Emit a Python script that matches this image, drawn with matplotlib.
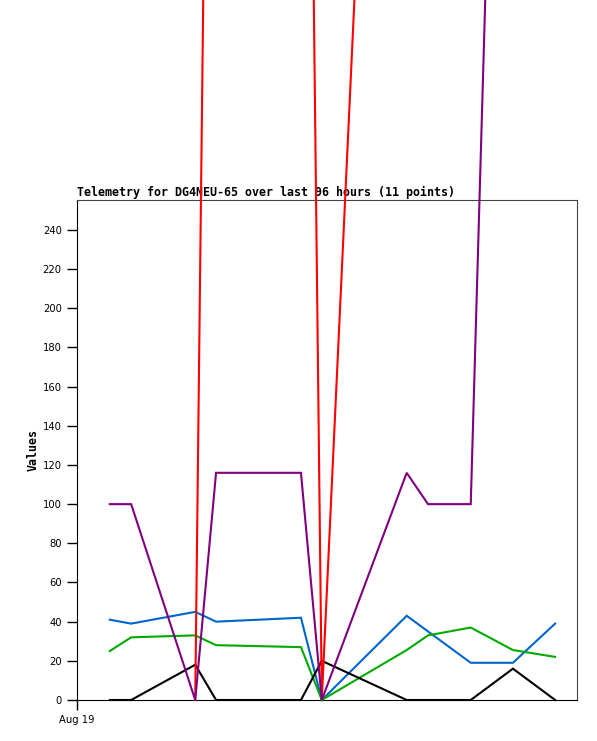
import matplotlib
matplotlib.use("Agg")
import matplotlib.pyplot as plt
import numpy as np

# hours since Aug 19 00:00
hours = [6.3, 10.4, 22.7, 26.7, 43.0, 47.0, 63.3, 67.4, 75.6, 83.7, 91.8]

# telemetry channels (red and purple go far off the top of the plot)
red = [np.nan, np.nan, 0, 930, 930, 0, 930, 930, 930, 930, 930]
purple = [100, 100, 0, 116, 116, 0, 116, 100, 100, 850, 850]
blue = [41, 39, 45, 40, 42, 0, 43, 35, 19, 19, 39]
green = [25, 32, 33, 28, 27, 0, 25.5, 33, 37, 25.5, 22]
black = [0, 0, 18, 0, 0, 20, 0, 0, 0, 16, 0]

yticks = list(range(0, 241, 20))
title = "Telemetry for DG4NEU-65 over last 96 hours (11 points)"

W, H = 597, 741
fig = plt.figure(figsize=(W / 100, H / 100), dpi=100)
ax = fig.add_axes([77 / W, (H - 700) / H, 500 / W, 500 / H])

series = [(blue, "#0066cc"), (green, "#00aa00"), (black, "#000000"),
          (red, "#ff0000"), (purple, "#800080")]
for vals, col in series:
    ax.plot(hours, vals, color=col, lw=1.5, clip_on=False, zorder=4,
            solid_joinstyle="miter")

ax.set_xlim(0, 96)
ax.set_ylim(0, 255.3)

ax.set_yticks(yticks)
ax.set_yticklabels([str(t) for t in yticks], fontsize=7.2, family="DejaVu Sans")
ax.set_xticks([0])
ax.set_xticklabels(["Aug 19"], fontsize=7.2, family="DejaVu Sans")
ax.tick_params(direction="out", length=7, width=1, color="black", pad=4)

for s in ["top", "right"]:
    ax.spines[s].set_color("#444444")
for s in ["left", "bottom"]:
    ax.spines[s].set_color("black")

ax.set_title(title, loc="left", fontsize=8.35, family="DejaVu Sans Mono",
             fontweight="bold", pad=3)
ax.set_ylabel("Values", fontsize=8.35, family="DejaVu Sans Mono",
              fontweight="bold", labelpad=2)

fig.savefig("out.png", dpi=100)
